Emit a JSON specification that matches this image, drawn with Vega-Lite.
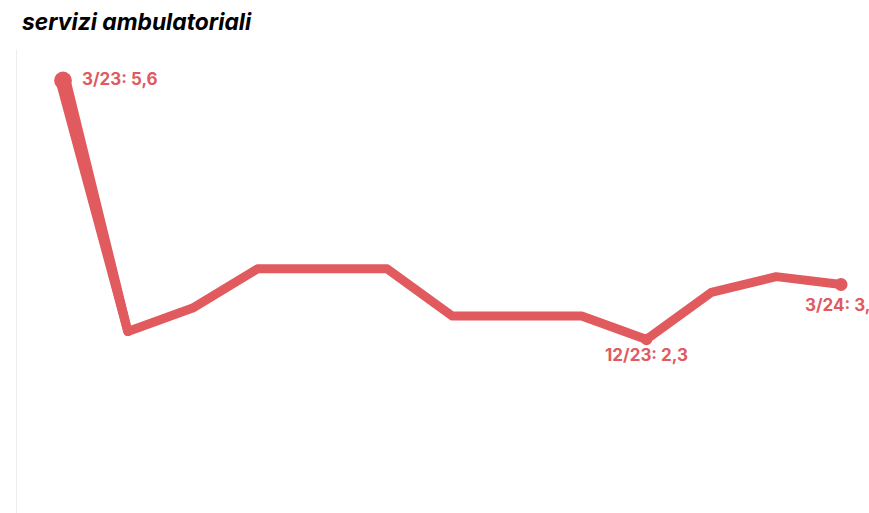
{
  "$schema": "https://vega.github.io/schema/vega-lite/v6.json",
  "width": 853,
  "height": 471,
  "autosize": "none",
  "padding": {"left": 16, "top": 49, "right": 0, "bottom": 0},
  "background": "white",
  "config": {"view": {"stroke": null}},
  "title": {
    "text": "servizi ambulatoriali",
    "anchor": "start",
    "frame": "group",
    "font": "Inter",
    "fontSize": 22.8,
    "fontStyle": "italic",
    "fontWeight": "bold",
    "color": "#000000",
    "dx": 6,
    "offset": 14
  },
  "data": {
    "values": [
      {"mese": "3/23", "valore": 5.6},
      {"mese": "4/23", "valore": 2.4},
      {"mese": "5/23", "valore": 2.7},
      {"mese": "6/23", "valore": 3.2},
      {"mese": "7/23", "valore": 3.2},
      {"mese": "8/23", "valore": 3.2},
      {"mese": "9/23", "valore": 2.6},
      {"mese": "10/23", "valore": 2.6},
      {"mese": "11/23", "valore": 2.6},
      {"mese": "12/23", "valore": 2.3},
      {"mese": "1/24", "valore": 2.9},
      {"mese": "2/24", "valore": 3.1},
      {"mese": "3/24", "valore": 3.0}
    ]
  },
  "transform": [
    {"calculate": "datum.mese + ': ' + replace(format(datum.valore, '.1f'), '.', ',')", "as": "etichetta"}
  ],
  "encoding": {
    "x": {
      "field": "mese",
      "type": "ordinal",
      "sort": null,
      "scale": {"type": "point", "padding": 0.578, "align": 0.627},
      "axis": null
    },
    "y": {
      "field": "valore",
      "type": "quantitative",
      "scale": {"domain": [0, 6], "nice": false, "zero": false},
      "axis": {"title": null, "labels": false, "ticks": false, "grid": false, "domain": true, "domainColor": "#eeeeee", "domainWidth": 1}
    }
  },
  "layer": [
    {
      "mark": {"type": "line", "color": "#e05a5e", "strokeWidth": 9, "strokeCap": "round", "strokeJoin": "round"}
    },
    {
      "transform": [{"filter": "datum.mese == '3/23' || datum.mese == '4/23'"}],
      "mark": {"type": "trail", "color": "#e05a5e"},
      "encoding": {
        "size": {"field": "valore", "type": "quantitative", "scale": {"domain": [2.4, 5.6], "range": [9, 15]}, "legend": null}
      }
    },
    {
      "transform": [{"filter": "datum.mese == '3/23'"}],
      "mark": {"type": "circle", "color": "#e05a5e", "opacity": 1, "size": 314}
    },
    {
      "transform": [{"filter": "datum.mese == '12/23'"}],
      "mark": {"type": "circle", "color": "#e05a5e", "opacity": 1, "size": 130}
    },
    {
      "transform": [{"filter": "datum.mese == '3/24'"}],
      "mark": {"type": "circle", "color": "#e05a5e", "opacity": 1, "size": 170}
    },
    {
      "transform": [{"filter": "datum.mese == '3/23'"}],
      "mark": {"type": "text", "color": "#e05a5e", "font": "Inter", "fontSize": 17, "fontWeight": "bold", "align": "left", "baseline": "middle", "dx": 19},
      "encoding": {"text": {"field": "etichetta"}}
    },
    {
      "transform": [{"filter": "datum.mese == '12/23'"}],
      "mark": {"type": "text", "color": "#e05a5e", "font": "Inter", "fontSize": 17, "fontWeight": "bold", "align": "center", "baseline": "top", "dy": 9},
      "encoding": {"text": {"field": "etichetta"}}
    },
    {
      "transform": [{"filter": "datum.mese == '3/24'"}],
      "mark": {"type": "text", "color": "#e05a5e", "font": "Inter", "fontSize": 17, "fontWeight": "bold", "align": "left", "baseline": "top", "dx": -36, "dy": 13},
      "encoding": {"text": {"field": "etichetta"}}
    }
  ]
}
